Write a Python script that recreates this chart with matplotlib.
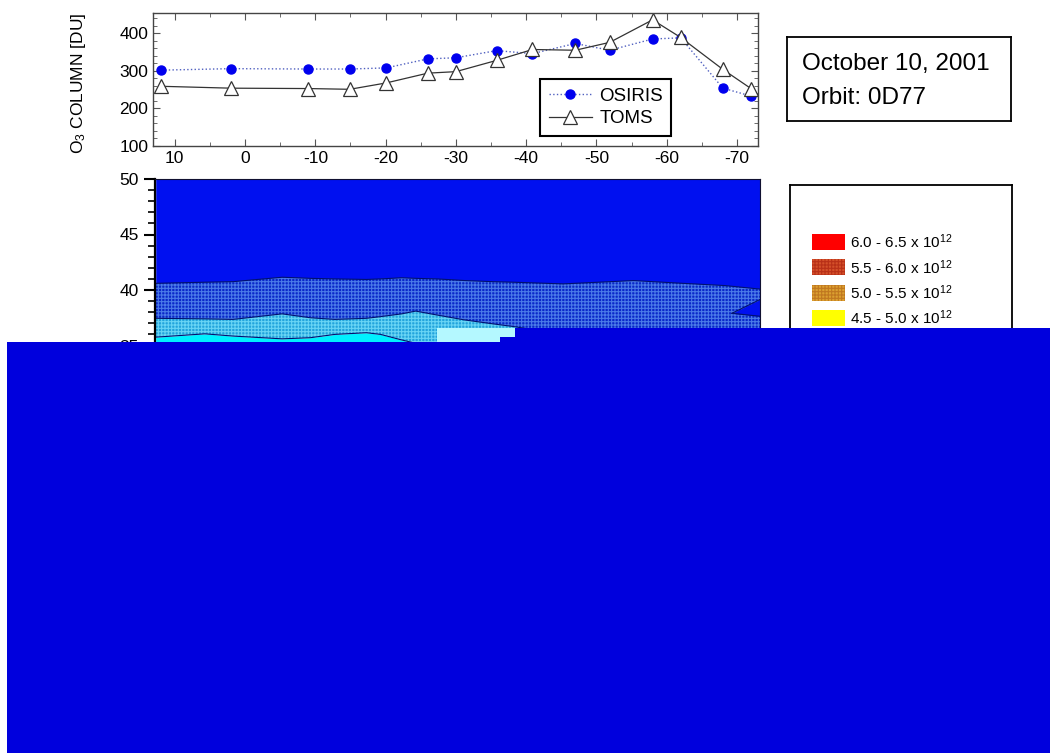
import matplotlib
matplotlib.use("Agg")
import matplotlib.pyplot as plt
from matplotlib.patches import Rectangle

plt.rcParams['font.family'] = ['Liberation Sans', 'DejaVu Sans']
plt.rcParams['mathtext.default'] = 'regular'
plt.rcParams['axes.unicode_minus'] = False
plt.rcParams['hatch.linewidth'] = 0.8

# ---- total ozone column along the orbit ----
lat = [11.9, 2.0, -9.0, -14.9, -20.1, -26.0, -30.0, -35.8, -40.9, -47.0, -51.9, -58.0, -62.0, -68.0, -72.0]
osiris = [302, 306, 305, 305, 308, 332, 335, 354, 346, 373, 355, 385, 388, 254, 233]
toms = [259, 254, 253, 251, 268, 294, 298, 328, 357, 355, 376, 436, 389, 304, 253]

# ---- contour band boundaries (altitude km vs latitude) ----
c_lat = [13, 6, 2, -5, -9, -12.5, -17, -19, -22, -24, -27, -31, -35, -38, -45, -55, -62, -68, -73.5]
b1_alt = [40.6, 40.7, 40.75, 41.15, 41.05, 41.0, 40.95, 41.0, 41.1, 41.05, 41.0, 40.85, 40.75, 40.7,
          40.55, 40.85, 40.6, 40.4, 40.05]
b2_alt = [37.45, 37.4, 37.35, 37.85, 37.5, 37.35, 37.45, 37.6, 37.85, 38.1, 37.75, 37.3, 36.95, 36.7,
          36.0, 35.7, 35.4, 35.2, 35.0]
b3_alt = [35.75, 36.05, 35.85, 35.6, 35.7, 36.0, 36.15, 36.0, 35.5, 35.2, 34.9, 34.5, 34.2, 34.0,
          33.7, 33.5, 33.3, 33.1, 33.0]
wedge_lat = [-69.0, -73.5]
wedge_lo = [37.9, 37.6]
wedge_hi = [37.9, 39.3]

leg_labels = ['6.0 - 6.5 x 10$^{12}$', '5.5 - 6.0 x 10$^{12}$', '5.0 - 5.5 x 10$^{12}$', '4.5 - 5.0 x 10$^{12}$']
leg_face = ['#ff0000', '#d4502a', '#dca030', '#ffff00']
leg_hatch = [None, '+++++', '+++++', None]
leg_hcol = ['#ff0000', '#b83018', '#c07820', '#ffff00']

W, H = 1050, 753
fig = plt.figure(figsize=(W / 100, H / 100), dpi=100)


def box(x0, y0, x1, y1):
    # pixel box -> figure fraction
    return [x0 / W, 1 - y1 / H, (x1 - x0) / W, (y1 - y0) / H]


# top panel
ax1 = fig.add_axes(box(153, 12.7, 758, 146))
ax1.plot(lat, osiris, ':', color='#5060c0', lw=1, marker='o', ms=6.5,
         mfc='#0000ee', mec='#0000ee', label='OSIRIS')
ax1.plot(lat, toms, '-', color='#333333', lw=0.9, marker='^', ms=9.5,
         mfc='white', mec='#333333', mew=0.9, label='TOMS')
ax1.set_xlim(13.1, -73.0)
ax1.set_ylim(100, 455)
ax1.set_xticks(range(10, -71, -10))
ax1.set_xticks(range(10, -75, -5), minor=True)
ax1.set_yticks([100, 200, 300, 400])
ax1.set_yticks(range(100, 460, 20), minor=True)
ax1.tick_params(which='both', direction='in', top=True, right=True, labelsize=12.5, color='#555555')
ax1.tick_params(which='major', length=5)
ax1.tick_params(which='minor', length=3)
for s in ax1.spines.values():
    s.set_color('#444444')
    s.set_linewidth(1.0)
ax1.set_ylabel('O$_3$ COLUMN [DU]', fontsize=12.5)
ax1.yaxis.set_label_coords(-0.107, 0.47)
leg = ax1.legend(loc='upper left', bbox_to_anchor=(0.64, 0.503), borderaxespad=0,
                 fancybox=False, edgecolor='black', framealpha=1, fontsize=13.5,
                 numpoints=1, handlelength=2.3, handletextpad=0.4,
                 labelspacing=0.3, borderpad=0.45)
leg.get_frame().set_linewidth(1.5)

# contour panel
ax2 = fig.add_axes(box(155, 179, 760, 567.5))
ax2.set_xlim(13.1, -73.0)
ax2.set_ylim(15, 50)
ax2.fill_between(c_lat, b1_alt, 50, color='#0010f0', lw=0)
ax2.fill_between(c_lat, b2_alt, b1_alt, facecolor='#0a28c8', edgecolor='#4a7ae8', hatch='+++++', lw=0)
ax2.fill_between(c_lat, b3_alt, b2_alt, facecolor='#22a4dc', edgecolor='#68d4f4', hatch='+++++', lw=0)
ax2.fill_between(c_lat, 15, b3_alt, color='#00f0ff', lw=0)
ax2.fill_between(wedge_lat, wedge_lo, wedge_hi, color='#0010f0', lw=0)
for ba in [b1_alt, b2_alt, b3_alt]:
    ax2.plot(c_lat, ba, color='#001070', lw=0.8)
ax2.plot(wedge_lat, wedge_lo, color='#001070', lw=0.8)
ax2.plot(wedge_lat, wedge_hi, color='#001070', lw=0.8)
ax2.set_yticks([50, 45, 40, 35, 30, 25, 20])
ax2.set_yticks(range(15, 51), minor=True)
ax2.set_xticks([])
ax2.tick_params(axis='y', which='both', direction='out', labelsize=12.5, color='black')
ax2.tick_params(axis='y', which='major', length=8, width=1.5)
ax2.tick_params(axis='y', which='minor', length=5, width=1.2)
for s in ax2.spines.values():
    s.set_color('#101030')
    s.set_linewidth(0.8)
ax2.spines['left'].set_linewidth(1.6)
ax2.spines['left'].set_color('black')

# info box
ax3 = fig.add_axes(box(787, 37, 1011, 121))
ax3.set_xticks([])
ax3.set_yticks([])
for s in ax3.spines.values():
    s.set_linewidth(1.3)
ax3.text(0.067, 0.607, 'October 10, 2001', fontsize=17.5, va='baseline', transform=ax3.transAxes)
ax3.text(0.067, 0.202, 'Orbit: 0D77', fontsize=17.5, va='baseline', transform=ax3.transAxes)

# colour key box (pixel units inside)
ax4 = fig.add_axes(box(790, 185, 1012, 600))
ax4.set_xlim(0, 222)
ax4.set_ylim(415, 0)
ax4.set_xticks([])
ax4.set_yticks([])
for s in ax4.spines.values():
    s.set_linewidth(1.3)
for i, lab in enumerate(leg_labels):
    yc = 57 + i * 25.3
    ax4.add_patch(Rectangle((22, yc - 8), 33, 16, facecolor=leg_face[i],
                            edgecolor=leg_hcol[i], hatch=leg_hatch[i], lw=0))
    ax4.text(60, yc, lab, fontsize=11, va='center')

# blue block covering the lower part of the picture
cover = '#0000dd'
for (x0, y0, x1, y1, c) in [(7, 342, W, H, cover), (515, 328, W, 342, cover), (500, 337, 515, 342, cover),
                            (437, 328, 500, 342, '#b4f8ff'), (500, 328, 515, 337, '#b4f8ff')]:
    fig.add_artist(Rectangle((x0 / W, 1 - y1 / H), (x1 - x0) / W, (y1 - y0) / H,
                             transform=fig.transFigure, facecolor=c, edgecolor='none', zorder=20))

fig.savefig('out.png', dpi=100)
